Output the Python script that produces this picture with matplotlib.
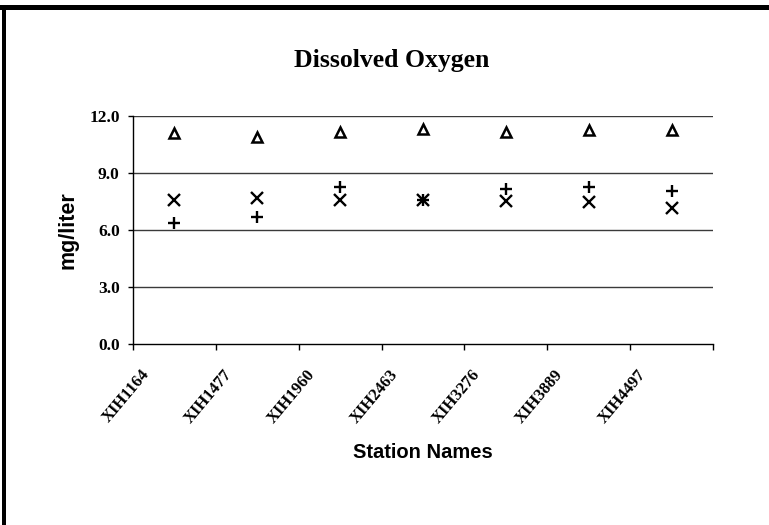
import matplotlib
matplotlib.use("Agg")
import matplotlib.pyplot as plt
from matplotlib.transforms import ScaledTranslation
from matplotlib.patches import Rectangle
import numpy as np

# Dissolved oxygen readings (mg/liter) per monitoring station
stations = ["XIH1164", "XIH1477", "XIH1960", "XIH2463", "XIH3276", "XIH3889", "XIH4497"]
tri_values = [11.1, 10.9, 11.15, 11.3, 11.15, 11.25, 11.25]
x_values = [7.6, 7.7, 7.55, 7.55, 7.5, 7.45, 7.15]
plus_values = [6.35, 6.7, 8.25, 7.55, 8.15, 8.25, 8.05]
y_ticks = [0.0, 3.0, 6.0, 9.0, 12.0]

W, H, DPI = 769, 525, 100
fig = plt.figure(figsize=(W / DPI, H / DPI), dpi=DPI)
fig.patch.set_facecolor("white")

# plot area in pixel coordinates
ax_l, ax_r, ax_t, ax_b = 133, 713, 115.7, 344.3
ax = fig.add_axes([ax_l / W, 1 - ax_b / H, (ax_r - ax_l) / W, (ax_b - ax_t) / H])

pos = np.arange(len(stations)) + 0.5
ax.plot(pos, tri_values, linestyle="none", marker="^", ms=7.5, mew=1.8,
        mfc="none", mec="black", clip_on=False, zorder=3)
ax.plot(pos, x_values, linestyle="none", marker="x", ms=8, mew=1.7,
        color="black", clip_on=False, zorder=3)
ax.plot(pos, plus_values, linestyle="none", marker="+", ms=9, mew=1.7,
        color="black", clip_on=False, zorder=3)

ax.set_xlim(0, len(stations))
ax.set_ylim(0, 12)

# horizontal gridlines
for v in y_ticks[1:]:
    ax.axhline(v, color="#3a3a3a", lw=1.0, zorder=1)

for s in ("top", "right"):
    ax.spines[s].set_visible(False)
for s in ("left", "bottom"):
    ax.spines[s].set_color("black")
    ax.spines[s].set_linewidth(1.0)

serif = ["Liberation Serif", "DejaVu Serif"]
sans = ["Liberation Sans", "DejaVu Sans"]

ax.set_yticks(y_ticks)
ax.set_yticklabels([f"{v:.1f}" for v in y_ticks], fontfamily=serif,
                   fontweight="bold", fontsize=12.5)
ax.tick_params(axis="y", direction="out", length=3.6, width=1, pad=6, colors="black")

# category boundaries carry the tick marks, labels sit at the centres
ax.set_xticks(np.arange(len(stations) + 1))
ax.set_xticklabels([])
ax.tick_params(axis="x", which="major", direction="out", length=4, width=1)
ax.set_xticks(pos, minor=True)
ax.set_xticklabels(stations, minor=True, rotation=50, ha="right", va="top",
                   fontfamily=serif, fontweight="bold", fontsize=12)
ax.tick_params(axis="x", which="minor", length=0, pad=16)
shift = ScaledTranslation(-22 / DPI, 0, fig.dpi_scale_trans)
for lab in ax.get_xticklabels(minor=True):
    lab.set_transform(lab.get_transform() + shift)

ax.set_xlabel("Station Names", fontfamily=sans, fontweight="bold", fontsize=14.5)
ax.xaxis.label.set_va("baseline")
ax.xaxis.set_label_coords(0.5, ((H - 458) - (H - ax_b)) / (ax_b - ax_t))

ax.set_ylabel("mg/liter", fontfamily=sans, fontweight="bold", fontsize=15.5)
ax.yaxis.set_label_coords((79 - ax_l) / (ax_r - ax_l), 0.5)

fig.text(392 / W, 1 - 67 / H, "Dissolved Oxygen", ha="center", va="baseline",
         fontfamily=serif, fontweight="bold", fontsize=18.5)

# page frame around the chart
fig.patches.append(Rectangle((0, 1 - 10 / H), 1, 5 / H, transform=fig.transFigure,
                             facecolor="black", edgecolor="none", zorder=5))
fig.patches.append(Rectangle((2 / W, 0), 4 / W, 1 - 10 / H, transform=fig.transFigure,
                             facecolor="black", edgecolor="none", zorder=5))

fig.savefig("out.png", dpi=DPI, facecolor="white")
